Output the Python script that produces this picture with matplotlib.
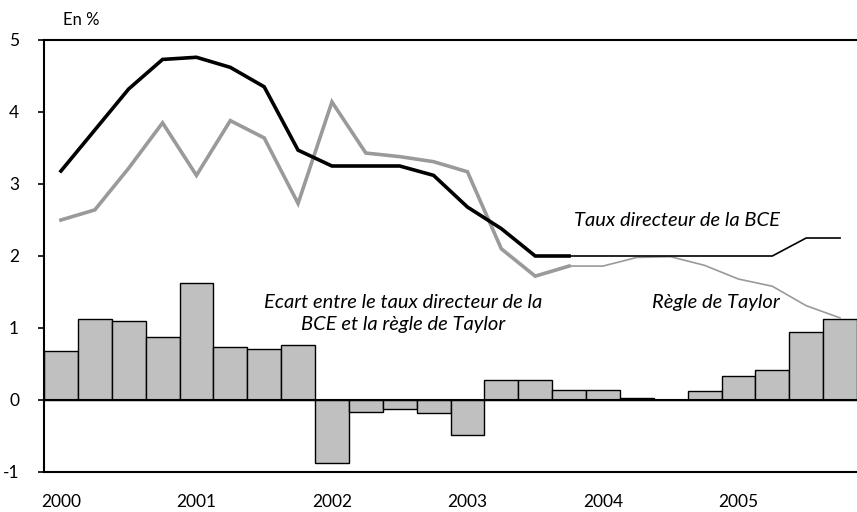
import numpy as np
import matplotlib
matplotlib.use('Agg')
import matplotlib.pyplot as plt

plt.rcParams['font.family'] = ['Lato', 'DejaVu Sans']
plt.rcParams['axes.unicode_minus'] = False

# Trimestres 2000T1 - 2005T4
years = ['2000', '2001', '2002', '2003', '2004', '2005']

# Taux directeur de la BCE
taux_bce = [3.18, 3.75, 4.32, 4.73, 4.76, 4.62, 4.35, 3.47,
            3.25, 3.25, 3.25, 3.12, 2.68, 2.38, 2.00, 2.00,
            2.00, 2.00, 2.00, 2.00, 2.00, 2.00, 2.25, 2.25]

# Regle de Taylor
taylor = [2.50, 2.64, 3.22, 3.85, 3.12, 3.88, 3.64, 2.73,
          4.14, 3.43, 3.38, 3.31, 3.17, 2.10, 1.72, 1.86,
          1.86, 1.98, 1.99, 1.87, 1.68, 1.58, 1.31, 1.14]

# Ecart entre les deux
ecart = [0.68, 1.12, 1.10, 0.88, 1.63, 0.73, 0.71, 0.76,
         -0.87, -0.17, -0.12, -0.18, -0.48, 0.28, 0.28, 0.14,
         0.14, 0.03, 0.00, 0.13, 0.33, 0.42, 0.95, 1.12]

x = np.arange(len(taux_bce))
n_epais = 16  # partie en trait epais

fig = plt.figure(figsize=(8.57, 5.12), dpi=100)
ax = fig.add_axes([44 / 857, 40 / 512, 1 - 44 / 857, 432 / 512])

ax.bar(x, ecart, width=1.0, color='#c0c0c0', edgecolor='black', linewidth=1.0, zorder=2)
ax.axhline(0, color='black', linewidth=1.5, zorder=3)

ax.plot(x[:n_epais], taylor[:n_epais], color='#9a9a9a', linewidth=2.6, zorder=4,
        solid_joinstyle='miter')
ax.plot(x[n_epais - 1:], taylor[n_epais - 1:], color='#9a9a9a', linewidth=1.2, zorder=4)
ax.plot(x[:n_epais], taux_bce[:n_epais], color='black', linewidth=2.6, zorder=5,
        solid_joinstyle='miter')
ax.plot(x[n_epais - 1:], taux_bce[n_epais - 1:], color='black', linewidth=1.2, zorder=5)

ax.set_xlim(-0.5, len(x) - 0.5)
ax.set_ylim(-1, 5)
ax.set_yticks(range(-1, 6))
ax.set_xticks(range(0, len(x), 4))
ax.set_xticklabels(years)
ax.tick_params(axis='x', length=0, pad=16, labelsize=12.5)
ax.tick_params(axis='y', direction='out', length=4, width=1.2, pad=14, labelsize=12.5)

ax.spines['right'].set_visible(False)
for s in ['left', 'top', 'bottom']:
    ax.spines[s].set_linewidth(1.5)

ax.text(21.23, 2.5, 'Taux directeur de la BCE', style='italic', fontsize=14.5,
        ha='right', va='center')
ax.text(21.23, 1.35, 'Règle de Taylor', style='italic', fontsize=14.5,
        ha='right', va='center')
ax.text(10.1, 1.2, 'Ecart entre le taux directeur de la\nBCE et la règle de Taylor',
        style='italic', fontsize=14.5, ha='center', va='center', linespacing=1.4)

fig.text(63 / 857, 1 - 20 / 512, 'En %', fontsize=12, ha='left', va='center')

fig.savefig('out.png', dpi=100)
